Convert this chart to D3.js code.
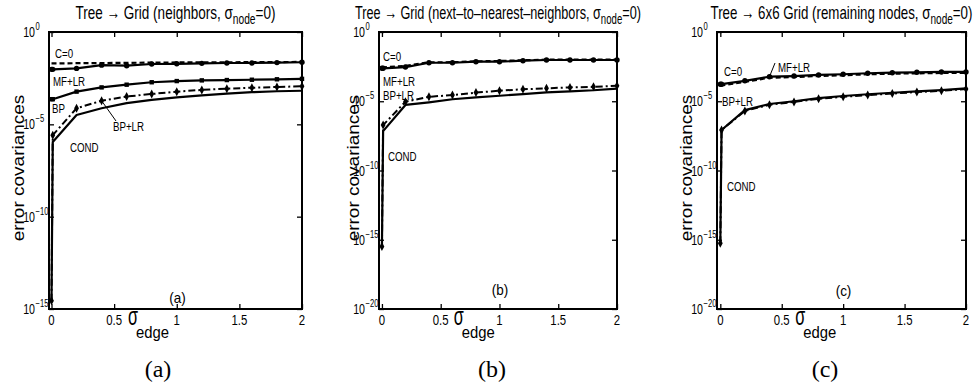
<!DOCTYPE html>
<html>
<head>
<meta charset="utf-8">
<script src="https://cdn.jsdelivr.net/npm/d3@7/dist/d3.min.js"></script>
<style>
  body { margin: 0; background: #fff; }
  svg { display: block; }
</style>
</head>
<body>
<svg id="chart" width="977" height="390"></svg>
<script>
// sigma_edge values (first point is 0, second a tiny sigma just above it)
const sigma = [0, 0.01, 0.2, 0.4, 0.6, 0.8, 1.0, 1.2, 1.4, 1.6, 1.8, 2.0];
const xTicks = [0, 0.5, 1, 1.5, 2];
const xTickLabels = ['0', '0.5', '1', '1.5', '2'];
const yExpA = [0, -5, -10, -15];
const yExpBC = [0, -5, -10, -15, -20];

// (a) neighbors
const aC0   = [2.0e-2, 2.0e-2, 2.04e-2, 2.09e-2, 2.14e-2, 2.19e-2, 2.24e-2, 2.24e-2, 2.29e-2, 2.34e-2, 2.34e-2, 2.4e-2];
const aMFLR = [9.5e-3, 9.5e-3, 1.07e-2, 1.6e-2, 1.5e-2, 1.85e-2, 1.9e-2, 2.0e-2, 2.1e-2, 2.1e-2, 2.2e-2, 2.3e-2];
const aBP   = [2.3e-4, 2.3e-4, 5.9e-4, 1.0e-3, 1.4e-3, 1.9e-3, 2.2e-3, 2.4e-3, 2.5e-3, 2.6e-3, 2.75e-3, 2.9e-3];
const aBPLR = [2.8e-15, 2.6e-6, 7.4e-5, 1.9e-4, 3.2e-4, 4.4e-4, 5.9e-4, 7.3e-4, 8.5e-4, 9.6e-4, 1.05e-3, 1.15e-3];
const aCOND = [2.5e-15, 1.1e-6, 3.2e-5, 7.4e-5, 1.4e-4, 2.1e-4, 2.9e-4, 3.7e-4, 4.6e-4, 5.5e-4, 6.2e-4, 6.6e-4];

// (b) next-to-nearest neighbors
const bC0   = [2.8e-3, 2.8e-3, 3.5e-3, 6.5e-3, 6.6e-3, 7.6e-3, 8.1e-3, 9.1e-3, 1.0e-2, 1.0e-2, 1.0e-2, 1.0e-2];
const bMFLR = [2.4e-3, 2.4e-3, 2.95e-3, 6.0e-3, 6.0e-3, 7.2e-3, 7.2e-3, 8.5e-3, 9.5e-3, 9.5e-3, 9.5e-3, 9.5e-3];
const bBPLR = [3.2e-16, 1.9e-7, 9.3e-6, 2.1e-5, 2.8e-5, 4.2e-5, 5.8e-5, 7.3e-5, 8.6e-5, 1.0e-4, 1.1e-4, 1.3e-4];
const bCOND = [3.2e-16, 7.0e-8, 5.4e-6, 8.4e-6, 1.4e-5, 1.9e-5, 2.5e-5, 3.3e-5, 4.4e-5, 5.2e-5, 6.2e-5, 8.1e-5];

// (c) 6x6 grid, remaining nodes
const cC0   = [1.4e-4, 1.4e-4, 2.5e-4, 5.0e-4, 5.6e-4, 6.7e-4, 7.5e-4, 8.9e-4, 9.8e-4, 1.04e-3, 1.1e-3, 1.1e-3];
const cMFLR = [1.7e-4, 1.7e-4, 3.0e-4, 5.9e-4, 6.6e-4, 7.9e-4, 8.9e-4, 1.05e-3, 1.15e-3, 1.23e-3, 1.3e-3, 1.3e-3];
const cBPLR = [5.5e-16, 8.4e-8, 2.0e-6, 5.6e-6, 9.0e-6, 1.5e-5, 2.1e-5, 2.8e-5, 3.6e-5, 4.6e-5, 5.7e-5, 7.6e-5];
const cCOND = [5.5e-16, 8.4e-8, 2.3e-6, 6.3e-6, 1.0e-5, 1.7e-5, 2.4e-5, 3.2e-5, 4.1e-5, 5.2e-5, 6.4e-5, 8.6e-5];

const SANS = "'Liberation Sans', Arial, Helvetica, sans-serif";
const SERIF = "'Liberation Serif', 'Times New Roman', serif";

const styles = {
    'C=0':   {dash: '5,3', width: 2.2, marker: null},
    'MF+LR': {dash: null, width: 2.2, marker: 'circle'},
    'BP':    {dash: null, width: 2.2, marker: 'square'},
    'BP+LR': {dash: '7,3,2,3', width: 2, marker: 'diamond'},
    'COND':  {dash: null, width: 2.2, marker: null}
};

const panels = [
    {
        left: 49, right: 302, top: 32, bottom: 309, xmin: -0.02, ymin: 1e-15, exps: yExpA,
        title: ['Tree \u2192 Grid (neighbors, \u03c3', 'node', '=0)'], titleW: 200,
        ylabX: 24, inner: '(a)', innerY: 303, caption: '(a)', capX: 158,
        series: [['C=0', aC0], ['MF+LR', aMFLR], ['BP', aBP], ['COND', aCOND], ['BP+LR', aBPLR]],
        labels: [['C=0', 55, 58], ['MF+LR', 53, 86], ['BP', 52, 113], ['BP+LR', 113, 131], ['COND', 70, 152]],
        leader: {name: 'BP+LR', values: aBPLR, i: 3, to: [116, 121]}
    },
    {
        left: 379, right: 617, top: 32, bottom: 309, xmin: -0.025, ymin: 1e-20, exps: yExpBC,
        title: ['Tree \u2192 Grid (next\u2013to\u2013nearest\u2013neighbors, \u03c3', 'node', '=0)'], titleW: 286,
        ylabX: 359, inner: '(b)', innerY: 295, caption: '(b)', capX: 492,
        series: [['C=0', bC0], ['MF+LR', bMFLR], ['COND', bCOND], ['BP+LR', bBPLR]],
        labels: [['C=0', 383, 61], ['MF+LR', 383, 86], ['BP+LR', 383, 99.5], ['COND', 388, 161]]
    },
    {
        left: 717, right: 966, top: 32, bottom: 309, xmin: -0.027, ymin: 1e-20, exps: yExpBC,
        title: ['Tree \u2192 6x6 Grid (remaining nodes, \u03c3', 'node', '=0)'], titleW: 262,
        ylabX: 692, inner: '(c)', innerY: 296, caption: '(c)', capX: 825,
        series: [['C=0', cC0], ['MF+LR', cMFLR], ['COND', cCOND], ['BP+LR', cBPLR]],
        labels: [['C=0', 724, 76], ['MF+LR', 778, 72], ['BP+LR', 722, 106], ['COND', 727, 191]],
        leader: {name: 'MF+LR', values: cMFLR, i: 3, to: [775, 63]}
    }
];

const svg = d3.select('#chart');

// squeeze text horizontally (or across the glyphs when rotated)
function place(t, x, y, k, rot) {
    t.attr('transform', rot
        ? `translate(${x},${y}) rotate(${rot}) scale(1,${k})`
        : `translate(${x},${y}) scale(${k},1)`);
    return t;
}

function addText(str, size, family, anchor) {
    return svg.append('text')
        .attr('font-family', family || SANS)
        .attr('font-size', size)
        .attr('text-anchor', anchor || 'start')
        .attr('fill', '#000')
        .text(str);
}

panels.forEach(p => {
    const x = d3.scaleLinear().domain([p.xmin, 2]).range([p.left, p.right]);
    const y = d3.scaleLog().domain([p.ymin, 1]).range([p.bottom, p.top]);
    const g = svg.append('g');

    // ticks on all four sides, pointing inwards
    const yTickVals = p.exps.map(e => Math.pow(10, e));
    g.append('g').attr('transform', `translate(0,${p.bottom})`)
        .call(d3.axisBottom(x).tickValues(xTicks).tickSizeInner(-5).tickSizeOuter(0).tickFormat(''));
    g.append('g').attr('transform', `translate(0,${p.top})`)
        .call(d3.axisTop(x).tickValues(xTicks).tickSizeInner(-5).tickSizeOuter(0).tickFormat(''));
    g.append('g').attr('transform', `translate(${p.left},0)`)
        .call(d3.axisLeft(y).tickValues(yTickVals).tickSizeInner(-5).tickSizeOuter(0).tickFormat(''));
    g.append('g').attr('transform', `translate(${p.right},0)`)
        .call(d3.axisRight(y).tickValues(yTickVals).tickSizeInner(-5).tickSizeOuter(0).tickFormat(''));
    g.selectAll('.domain').remove();
    g.selectAll('.tick line').attr('stroke', '#000').attr('stroke-width', 1.3);

    // lines
    const line = d3.line().x((d, i) => x(sigma[i])).y(d => y(d));
    p.series.forEach(([name, vals]) => {
        const st = styles[name];
        g.append('path')
            .datum(vals)
            .attr('d', line)
            .attr('fill', 'none')
            .attr('stroke', '#000')
            .attr('stroke-width', st.width)
            .attr('stroke-dasharray', st.dash)
            .attr('stroke-linejoin', 'round');
        const pts = g.selectAll(null).data(vals).enter();
        if (st.marker === 'circle') {
            pts.append('circle')
                .attr('cx', (d, i) => x(sigma[i])).attr('cy', d => y(d))
                .attr('r', 2.7).attr('fill', '#000');
        } else if (st.marker === 'square') {
            pts.append('rect')
                .attr('x', (d, i) => x(sigma[i]) - 2.2).attr('y', d => y(d) - 2.2)
                .attr('width', 4.4).attr('height', 4.4).attr('fill', '#000');
        } else if (st.marker === 'diamond') {
            pts.append('path')
                .attr('transform', (d, i) => `translate(${x(sigma[i])},${y(d)})`)
                .attr('d', 'M0,-4.5L2.4,0L0,4.5L-2.4,0Z')
                .attr('fill', '#000');
        }
    });

    // box
    g.append('rect')
        .attr('x', p.left).attr('y', p.top)
        .attr('width', p.right - p.left).attr('height', p.bottom - p.top)
        .attr('fill', 'none').attr('stroke', '#000').attr('stroke-width', 2);

    // tick labels
    xTicks.forEach((v, i) => {
        place(addText(xTickLabels[i], 15, SANS, 'middle'), x(v), 325, 0.76);
    });
    p.exps.forEach(e => {
        const ty = y(Math.pow(10, e));
        place(addText('10', 14, SANS, 'end'), p.left - 14, ty + 5, 0.76);
        place(addText(e === 0 ? '0' : '\u2212' + (-e), 10, SANS, 'start'), p.left - 13.5, ty - 2, 0.76);
    });

    // title
    const tt = svg.append('text')
        .attr('font-family', SANS).attr('font-size', 18.5).attr('text-anchor', 'middle');
    tt.append('tspan').text(p.title[0]);
    tt.append('tspan').attr('font-size', 14).attr('dy', 5).text(p.title[1]);
    tt.append('tspan').attr('dy', -5).text(p.title[2]);
    const cx = (p.left + p.right) / 2;
    place(tt, cx, 19, p.titleW / tt.node().getComputedTextLength());

    // y label
    place(addText('error covariances', 19, SANS, 'middle'), p.ylabX, 168, 0.9, -90);

    // x label: sigma_edge
    place(addText('\u03c3', 25, SANS, 'start'), x(0.61), 325, 0.65);
    place(addText('edge', 16.5, SANS, 'start'), x(0.61) + 8, 338, 0.9);

    // series labels
    p.labels.forEach(([name, lx, ly]) => {
        place(addText(name, 13.5, SANS, 'start'), lx, ly, 0.72);
    });
    if (p.leader) {
        const L = p.leader;
        g.append('line')
            .attr('x1', x(sigma[L.i])).attr('y1', y(L.values[L.i]))
            .attr('x2', L.to[0]).attr('y2', L.to[1])
            .attr('stroke', '#000').attr('stroke-width', 1);
    }

    // inner panel letter and caption
    place(addText(p.inner, 15, SANS, 'middle'), cx + 2, p.innerY, 0.9);
    addText(p.caption, 24, SERIF, 'middle').attr('x', p.capX).attr('y', 377);
});
</script>
</body>
</html>
